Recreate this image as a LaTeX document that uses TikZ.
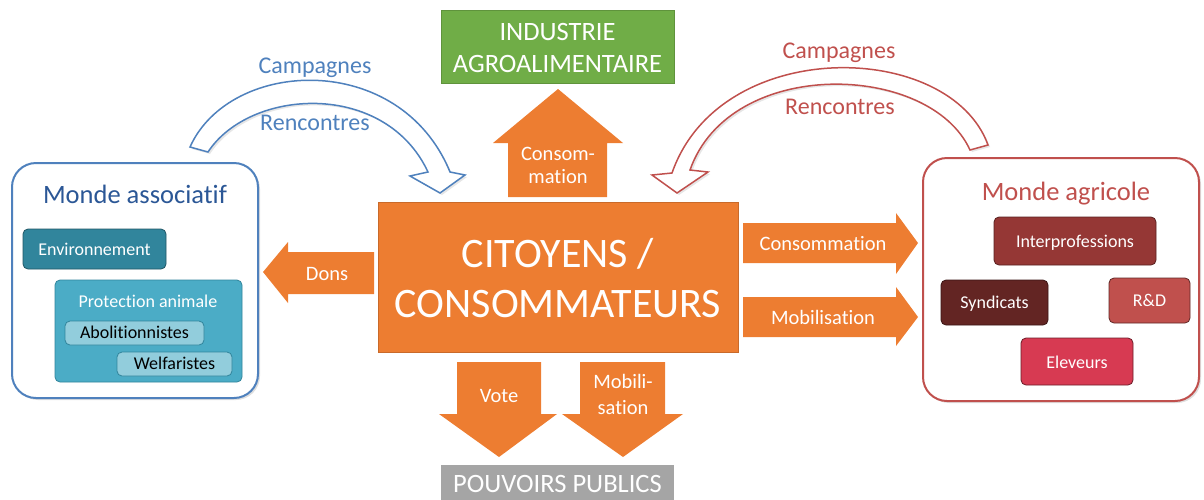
\documentclass[tikz,border=0pt]{standalone}
\usepackage{fontspec}
\setmainfont{Carlito}[Ligatures=NoCommon]
\usetikzlibrary{shadows,fit}
\definecolor{orng}{HTML}{ED7D31}
\definecolor{grn}{HTML}{70AD47}
\definecolor{gry}{HTML}{A5A5A5}
\definecolor{blu}{HTML}{4F81BD}
\definecolor{dblu}{HTML}{2B5796}
\definecolor{redl}{HTML}{C0504D}
\definecolor{tealA}{HTML}{31859C}
\definecolor{tealB}{HTML}{4BACC6}
\definecolor{tealC}{HTML}{92CDDC}
\definecolor{redA}{HTML}{953735}
\definecolor{redB}{HTML}{632523}
\definecolor{redC}{HTML}{C0504D}
\definecolor{redD}{HTML}{D73A52}
\newcommand\fsz[1]{\fontsize{#1}{#1}\selectfont}
\tikzset{
  lbl/.style={anchor=base, text=white, font=\fsz{20.5}},
  arctext/.style={anchor=base, font=\fsz{24}},
  container/.style={line width=2pt, rounded corners=24pt, fill=white,
    drop shadow={opacity=0.25, shadow xshift=2pt, shadow yshift=-2pt}},
  ibox/.style={rounded corners=5pt, line width=0.8pt},
  itext/.style={anchor=base, font=\fsz{18}},
  bigarc/.style={fill=white, line width=1.5pt, line join=miter,
    drop shadow={opacity=0.2, shadow xshift=2pt, shadow yshift=-2pt}},
  blockarrow/.style={fill=orng}
}
\begin{document}
\begin{tikzpicture}[x=1pt,y=-1pt, every node/.style={inner sep=0pt, outer sep=0pt}]
\useasboundingbox (0,0) rectangle (1204,499);
\clip (0,0) rectangle (1204,499);

% ---- curved arrows ----
\filldraw[bigarc, draw=blu] (190,147) .. controls (230,58) and (400,50) .. (450,172)
  -- (465,175) -- (440,193) -- (410,176) -- (428,172)
  .. controls (385,80) and (250,88) .. (208,152) -- cycle;
\filldraw[bigarc, draw=redl] (988,145) .. controls (950,40) and (720,35) .. (672,173)
  -- (652,175) -- (677,193) -- (708,172) -- (690,170)
  .. controls (730,56) and (930,62) .. (970,150) -- cycle;
\node (bcamp) [arctext, text=blu] at (315,73) {Campagnes};
\node (brenc) [arctext, text=blu] at (315,130) {Rencontres};
\node (rcamp) [arctext, text=redl] at (839,58) {Campagnes};
\node (rrenc) [arctext, text=redl] at (840,114) {Rencontres};

% ---- left container ----
\node (assoc) [container, draw=blu, fit={(12,163) (258,398)}] {};
\node (assoct) [anchor=base, text=dblu, font=\fsz{26.5}] at (135,203) {Monde associatif};
\node (env) [ibox, fill=tealA, draw=tealA!65!black, fit={(23,229) (166,269)}] {};
\node (envt) [itext, text=white] at (94.5,255) {Environnement};
\node (prot) [ibox, fill=tealB, draw=tealA, fit={(55,280) (242,382)}] {};
\node (prott) [itext, text=white] at (148,307) {Protection animale};
\node (abol) [ibox, fill=tealC, draw=tealA, fit={(65,321) (204,345)}] {};
\node (abolt) [itext, text=black] at (134.5,338.5) {Abolitionnistes};
\node (welf) [ibox, fill=tealC, draw=tealA, fit={(117,352) (232,376)}] {};
\node (welft) [itext, text=black] at (174.5,369) {Welfaristes};

% ---- right container ----
\node (agri) [container, draw=redl, fit={(923,158) (1199,401)}] {};
\node (agrit) [anchor=base, text=redl, font=\fsz{26.5}] at (1066,200) {Monde agricole};
\node (inter) [ibox, fill=redA, draw=redA!60!black, fit={(994,217) (1156,265)}] {};
\node (intert) [itext, text=white] at (1075,247) {Interprofessions};
\node (synd) [ibox, fill=redB, draw=redB!60!black, fit={(941,280) (1048,325)}] {};
\node (syndt) [itext, text=white] at (994.5,308) {Syndicats};
\node (rd) [ibox, fill=redC, draw=redC!50!black, fit={(1109,278) (1190,323)}] {};
\node (rdt) [itext, text=white] at (1149.5,306) {R\&D};
\node (elev) [ibox, fill=redD, draw=redD!50!black, fit={(1021,338) (1133,385)}] {};
\node (elevt) [itext, text=white] at (1077,368) {Eleveurs};

% ---- central boxes ----
\node (indus) [fill=grn, draw=grn!85!black, line width=0.5pt, fit={(441,10) (674,83)}] {};
\node (indus1) [anchor=base, text=white, font=\fsz{26.5}] at (557.5,40) {INDUSTRIE};
\node (indus2) [anchor=base, text=white, font=\fsz{26.5}] at (557.5,72) {AGROALIMENTAIRE};

\node (citoy) [fill=orng, draw=orng!85!black, line width=0.5pt, fit={(378,202) (738,352)}] {};
\node (citoy1) [anchor=base, text=white, font=\fsz{42}] at (558,267) {CITOYENS /};
\node (citoy2) [anchor=base, text=white, font=\fsz{42}] at (558,317) {CONSOMMATEURS};

\node (pouv) [fill=gry, fit={(441,465) (674,515)}] {};
\node (pouvt) [anchor=base, text=white, font=\fsz{26.5}] at (557.5,492) {POUVOIRS PUBLICS};

% ---- block arrows ----
\fill[blockarrow] (508,197) -- (508,143) -- (493,143) -- (558,89) -- (623,143) -- (607,143) -- (607,197) -- cycle;
\node (upt1) [lbl] at (558,160) {Consom-};
\node (upt2) [lbl] at (558,183) {mation};

\fill[blockarrow] (374,252) -- (288,252) -- (288,242) -- (263,272) -- (288,303) -- (288,294) -- (374,294) -- cycle;
\node (donst) [lbl] at (327,280) {Dons};

\fill[blockarrow] (743,223) -- (896,223) -- (896,213) -- (918,243) -- (896,274) -- (896,263) -- (743,263) -- cycle;
\node (consot) [lbl] at (823,250) {Consommation};

\fill[blockarrow] (743,297) -- (896,297) -- (896,287) -- (918,317) -- (896,346) -- (896,337) -- (743,337) -- cycle;
\node (mobt) [lbl] at (823,324) {Mobilisation};

\fill[blockarrow] (457,362) -- (541,362) -- (541,414) -- (557,414) -- (499,457) -- (439,414) -- (457,414) -- cycle;
\node (votet) [lbl] at (499,402) {Vote};

\fill[blockarrow] (580,362) -- (665,362) -- (665,414) -- (683,414) -- (623,457) -- (562,414) -- (580,414) -- cycle;
\node (mob1) [lbl] at (623,388) {Mobili-};
\node (mob2) [lbl] at (623,414) {sation};
\end{tikzpicture}
\end{document}
